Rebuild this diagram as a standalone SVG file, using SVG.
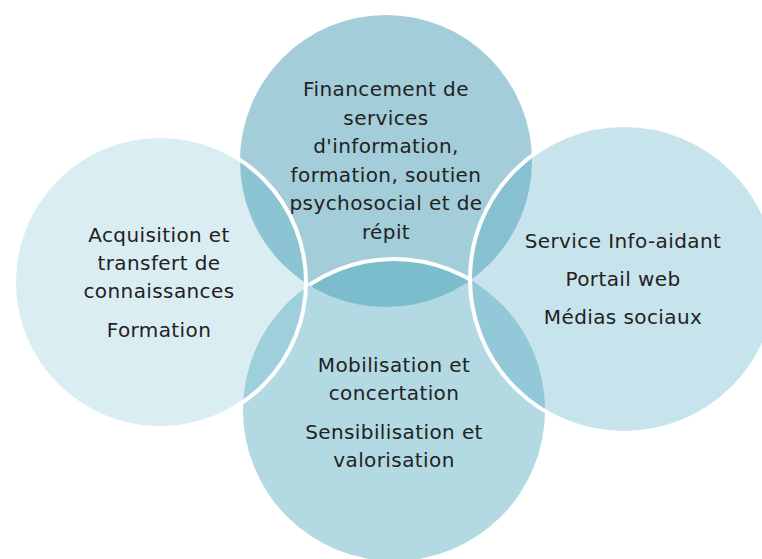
<svg xmlns="http://www.w3.org/2000/svg" width="762" height="559" viewBox="0 0 762 559">
<style>
text{font-family:"DejaVu Sans","Liberation Sans",sans-serif;font-size:20px;letter-spacing:0.4px;fill:#222222;text-anchor:middle}
.w{fill:none;stroke:#ffffff;stroke-width:4}
</style>
<defs>
<clipPath id="cT"><circle cx="386" cy="161" r="146"/></clipPath>
<clipPath id="cL"><circle cx="160" cy="282" r="146"/></clipPath>
<clipPath id="cR"><circle cx="624" cy="279" r="154"/></clipPath>
<clipPath id="cB"><circle cx="394" cy="410" r="151"/></clipPath>
</defs>
<rect width="762" height="559" fill="#ffffff"/>
<g id="node-top"><circle cx="386" cy="161" r="146" fill="#A3CDD9"/></g>
<g id="node-left"><circle cx="160" cy="282" r="146" fill="#DAEDF3"/></g>
<g id="node-right"><circle cx="624" cy="279" r="154" fill="#C7E4EC"/></g>
<g id="node-bottom"><circle cx="394" cy="410" r="151" fill="#B3D9E3"/></g>
<g id="overlaps">
<circle cx="160" cy="282" r="146" fill="#8DC4D4" clip-path="url(#cT)"/>
<circle cx="624" cy="279" r="154" fill="#86C0D1" clip-path="url(#cT)"/>
<circle cx="394" cy="410" r="151" fill="#9ECFDD" clip-path="url(#cL)"/>
<circle cx="394" cy="410" r="151" fill="#93C8D8" clip-path="url(#cR)"/>
<circle cx="394" cy="410" r="151" fill="#7BBCCD" clip-path="url(#cT)"/>
</g>
<g id="label-top">
<text x="386" y="96">Financement de</text>
<text x="386" y="125">services</text>
<text x="386" y="153">d'information,</text>
<text x="386" y="182">formation, soutien</text>
<text x="386" y="210">psychosocial et de</text>
<text x="386" y="239">répit</text>
</g>
<g id="connectors">
<circle class="w" cx="394" cy="410" r="151" clip-path="url(#cT)"/>
<circle class="w" cx="160" cy="282" r="146"/>
<circle class="w" cx="624" cy="279" r="154"/>
</g>
<g id="label-left">
<text x="159" y="242">Acquisition et</text>
<text x="159" y="270">transfert de</text>
<text x="159" y="298">connaissances</text>
<text x="159" y="337">Formation</text>
</g>
<g id="label-right">
<text x="623" y="248">Service Info-aidant</text>
<text x="623" y="286">Portail web</text>
<text x="623" y="324">Médias sociaux</text>
</g>
<g id="label-bottom">
<text x="394" y="372">Mobilisation et</text>
<text x="394" y="400">concertation</text>
<text x="394" y="439">Sensibilisation et</text>
<text x="394" y="467">valorisation</text>
</g>
</svg>
